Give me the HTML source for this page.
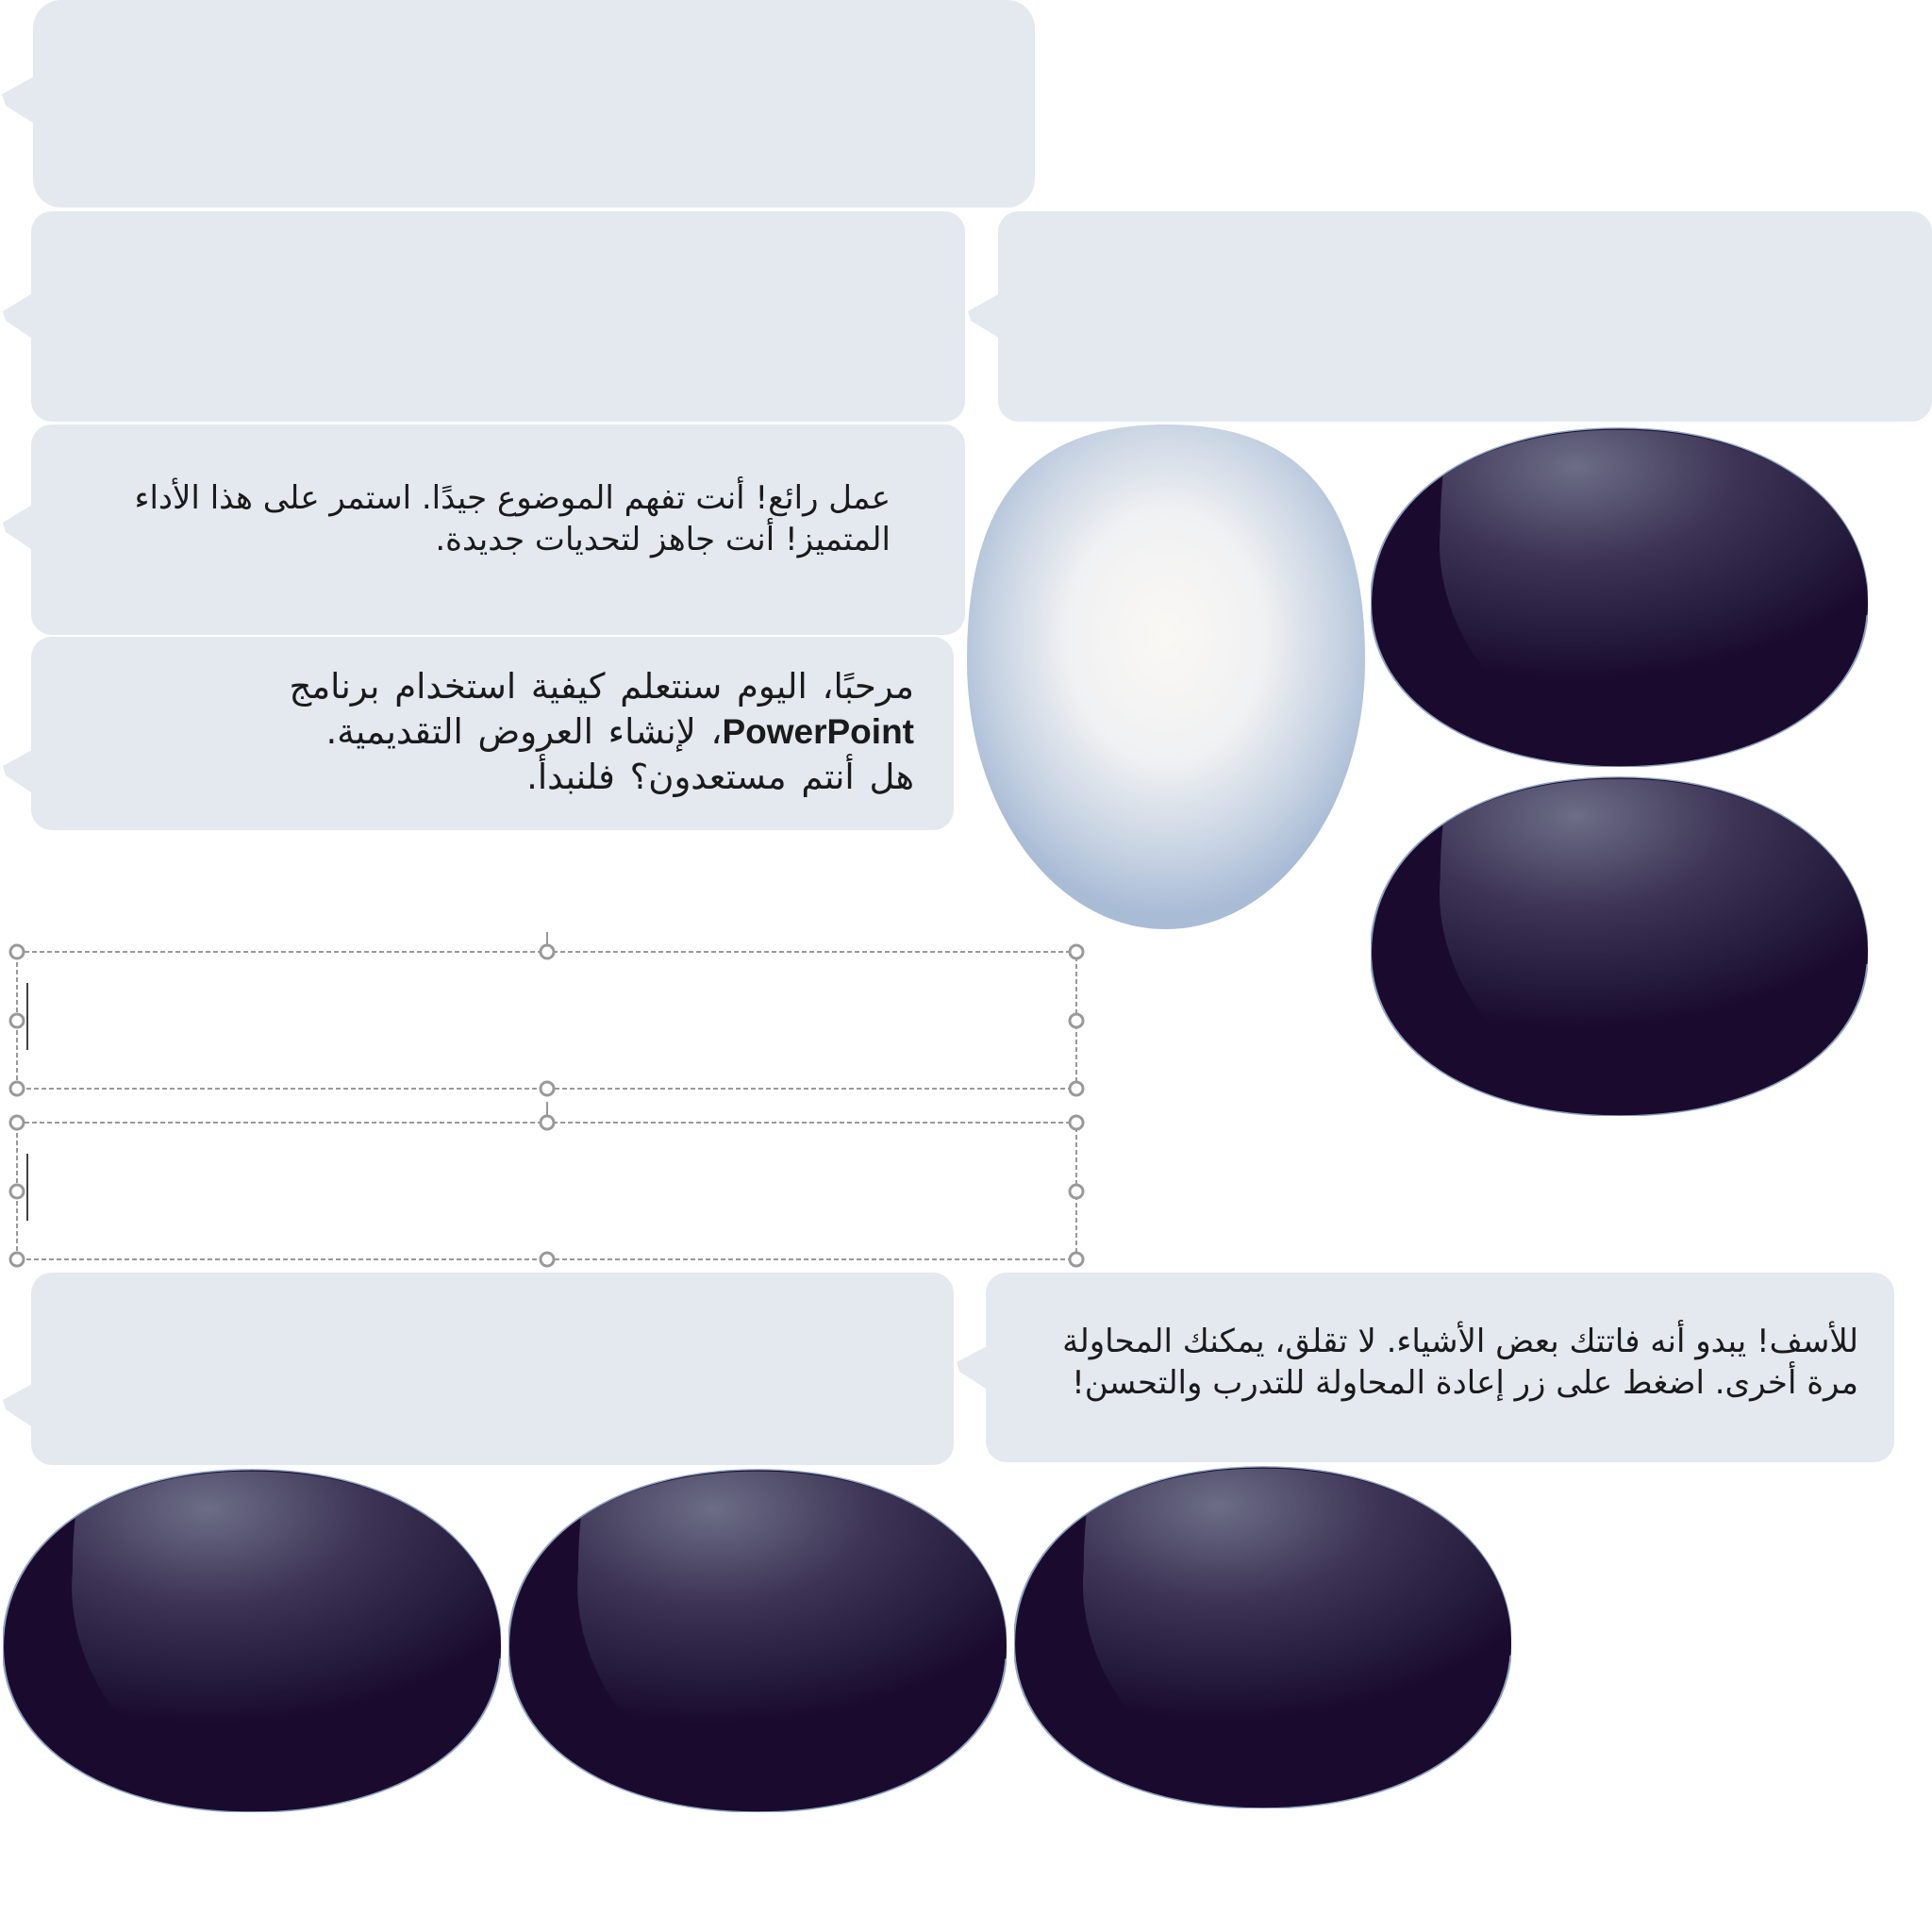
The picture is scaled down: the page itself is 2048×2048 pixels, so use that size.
<!DOCTYPE html>
<html><head><meta charset="utf-8"><style>
html,body{margin:0;padding:0;background:#fff;}
body{width:2048px;height:2048px;position:relative;overflow:hidden;}
svg{position:absolute;left:0;top:0;}
.t{position:absolute;direction:rtl;text-align:right;font-family:"DejaVu Sans","Liberation Sans",sans-serif;color:#1a1a1a;font-size:34px;line-height:44px;white-space:nowrap;}
</style></head><body>
<svg width="2048" height="2048" viewBox="0 0 2048 2048">
<defs>
<radialGradient id="hl" cx="0.3" cy="0.15" r="0.8">
<stop offset="0" stop-color="#6c6d86"/><stop offset="0.45" stop-color="#3c3355"/><stop offset="0.8" stop-color="#251b3c"/><stop offset="1" stop-color="#1a0b2e"/>
</radialGradient>
<radialGradient id="wh" cx="0.5" cy="0.42" r="0.55">
<stop offset="0" stop-color="#faf8f4"/><stop offset="0.45" stop-color="#f0f1f3"/><stop offset="0.8" stop-color="#c6d2e2"/><stop offset="1" stop-color="#a9bcd6"/>
</radialGradient>
<symbol id="blob" viewBox="0 0 100 100" preserveAspectRatio="none">
<path d="M50,0.5 C80,0.5 100,22 100,52 C100,82 78,100 50,100 C22,100 0,82 0,52 C0,22 20,0.5 50,0.5 Z" fill="#1a0b2e" stroke="#8fa3c2" stroke-width="0.4"/>
<clipPath id="bc"><path d="M50,1 C80,1 100,22 100,52 C100,82 78,100 50,100 C22,100 0,82 0,52 C0,22 20,1 50,1 Z"/></clipPath>
<g clip-path="url(#bc)"><path d="M15,5 C40,-5 100,0 105,30 L105,50 C90,68 60,78 27,78 C17,64 13,45 14,30 C14,18 15,10 15,5 Z" fill="url(#hl)"/></g>
</symbol>
</defs>
<g fill="#e4e8ef">
<rect x="35" y="0" width="1062" height="220" rx="30"/><path d="M38,80 L2,100 L6,112 L38,132 Z"/>
<rect x="33" y="224" width="990" height="223" rx="22"/><path d="M36,310 L3,330 L6,340 L36,360 Z"/>
<rect x="1058" y="224" width="990" height="223" rx="22"/><path d="M1062,310 L1026,330 L1029,340 L1062,360 Z"/>
<rect x="33" y="450" width="990" height="223" rx="22"/><path d="M36,534 L3,554 L6,564 L36,584 Z"/>
<rect x="33" y="675" width="978" height="205" rx="22"/><path d="M36,794 L3,812 L6,822 L36,842 Z"/>
<rect x="33" y="1349" width="978" height="204" rx="22"/><path d="M36,1466 L3,1484 L6,1494 L36,1514 Z"/>
<rect x="1045" y="1349" width="963" height="201" rx="22"/><path d="M1048,1426 L1014,1444 L1017,1454 L1048,1474 Z"/>
</g>
<path d="M1236,450 C1370,450 1447,520 1447,700 C1447,860 1350,985 1236,985 C1120,985 1025,860 1025,700 C1025,520 1100,450 1236,450 Z" fill="url(#wh)"/>
<use href="#blob" x="1453" y="452" width="527" height="361"/>
<use href="#blob" x="1453" y="822" width="527" height="361"/>
<use href="#blob" x="3" y="1556" width="528" height="365"/>
<use href="#blob" x="539" y="1556" width="528" height="365"/>
<use href="#blob" x="1075" y="1553" width="527" height="364"/>
<g fill="none" stroke="#999" stroke-width="2" stroke-dasharray="5,3">
<rect x="18" y="1009" width="1123" height="145"/>
<rect x="18" y="1190" width="1123" height="145"/>
</g>
<g stroke="#999" stroke-width="2"><line x1="580" y1="988" x2="580" y2="1001"/><line x1="580" y1="1168" x2="580" y2="1182"/></g>
<g fill="#fff" stroke="#999" stroke-width="3">
<circle cx="18" cy="1009" r="7"/><circle cx="580" cy="1009" r="7"/><circle cx="1141" cy="1009" r="7"/>
<circle cx="18" cy="1082" r="7"/><circle cx="1141" cy="1082" r="7"/>
<circle cx="18" cy="1154" r="7"/><circle cx="580" cy="1154" r="7"/><circle cx="1141" cy="1154" r="7"/>
<circle cx="18" cy="1190" r="7"/><circle cx="580" cy="1190" r="7"/><circle cx="1141" cy="1190" r="7"/>
<circle cx="18" cy="1263" r="7"/><circle cx="1141" cy="1263" r="7"/>
<circle cx="18" cy="1335" r="7"/><circle cx="580" cy="1335" r="7"/><circle cx="1141" cy="1335" r="7"/>
</g>
<g stroke="#000" stroke-width="1.5"><line x1="29" y1="1042" x2="29" y2="1113"/><line x1="29" y1="1223" x2="29" y2="1294"/></g>
</svg>
<div class="t" style="right:1104px;top:506px;">عمل رائع! أنت تفهم الموضوع جيدًا. استمر على هذا الأداء<br>المتميز! أنت جاهز لتحديات جديدة.</div>
<div class="t" style="right:1079px;top:704px;line-height:48px;font-size:37px;word-spacing:4px;">مرحبًا، اليوم سنتعلم كيفية استخدام برنامج<br><b style="font-family:'Liberation Sans',sans-serif;">PowerPoint</b>، لإنشاء العروض التقديمية.<br>هل أنتم مستعدون؟ فلنبدأ.</div>
<div class="t" style="right:78px;top:1400px;">للأسف! يبدو أنه فاتتك بعض الأشياء. لا تقلق، يمكنك المحاولة<br>مرة أخرى. اضغط على زر إعادة المحاولة للتدرب والتحسن!</div>
</body></html>
